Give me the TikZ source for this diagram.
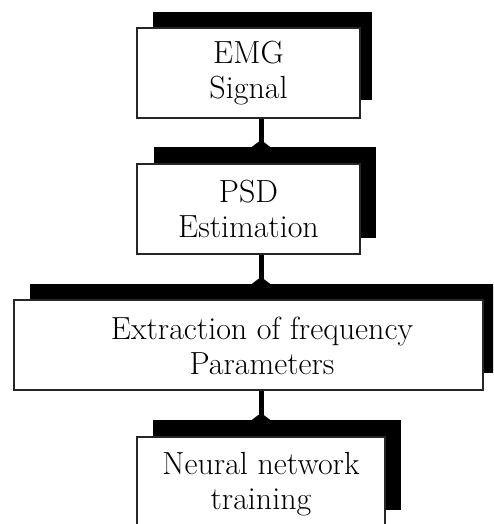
\documentclass[tikz,border=0pt]{standalone}
\usetikzlibrary{calc}
\tikzset{
  panel/.style={draw=black!85, line width=1.2pt, fill=white, inner sep=0pt},
  caption/.style={align=center, inner sep=0pt, font=\fontsize{32}{35}\selectfont},
  backing/.style={fill=black, inner sep=0pt},
  link/.style={line width=5pt}
}
% small flare where a link meets the next block
\newcommand\linkjoint[1]{\fill #1 ++(-2.5,-5) -- ++(-6.5,5) -- ++(18,0) -- ++(-6.5,-5) -- cycle;}
\begin{document}
\begin{tikzpicture}[x=1pt,y=-1pt]
\useasboundingbox (0,0) rectangle (493,524);
\clip (0,0) rectangle (493,524);

% dark backing plates, offset up and right
\node[backing, minimum width=219pt, minimum height=88pt] (s1) at (262.5,56) {};
\node[backing, minimum width=222pt, minimum height=91pt] (s2) at (265,192.5) {};
\node[backing, minimum width=480pt, minimum height=89pt] (s3) at (270,328.5) {};
\node[backing, minimum width=248pt, minimum height=90pt] (s4) at (277,465) {};

% white blocks
\node[panel, minimum width=223pt, minimum height=90pt] (b1) at (248.5,73) {};
\node[caption] (t1) at (b1.center) {EMG\\Signal};
\node[panel, minimum width=223pt, minimum height=90pt] (b2) at (248.5,209) {};
\node[caption] (t2) at (b2.center) {PSD\\Estimation};
\node[panel, minimum width=469pt, minimum height=90pt] (b3) at (248.5,345) {};
\node[caption] (t3) at (262,346) {Extraction of frequency\\Parameters};
\node[panel, minimum width=248pt, minimum height=90pt] (b4) at (261,482) {};
\node[caption] (t4) at (261,484) {Neural network\\training};

% links between blocks
\draw[link] ([xshift=12.5pt]b1.south) -- ([xshift=12.5pt]b1.south |- s2.north);
\linkjoint{([xshift=12.5pt]b1.south |- s2.north)}
\draw[link] ([xshift=12.5pt]b2.south) -- ([xshift=12.5pt]b2.south |- s3.north);
\linkjoint{([xshift=12.5pt]b2.south |- s3.north)}
\draw[link] ([xshift=12.5pt]b3.south) -- ([xshift=12.5pt]b3.south |- s4.north);
\linkjoint{([xshift=12.5pt]b3.south |- s4.north)}
\end{tikzpicture}
\end{document}
